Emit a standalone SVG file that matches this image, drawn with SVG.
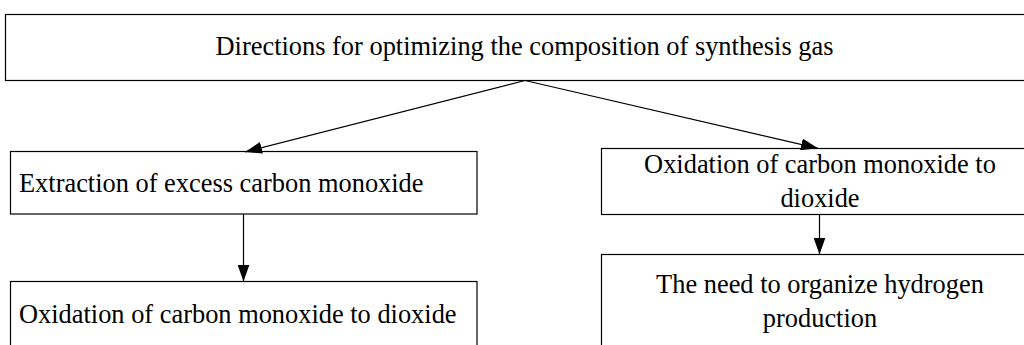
<svg xmlns="http://www.w3.org/2000/svg" width="1024" height="345" viewBox="0 0 1024 345">
<style>
.box{fill:#fff;stroke:#000;stroke-width:1.2}
.t{font-family:"Liberation Serif","Times New Roman",serif;font-size:26.4px;fill:#000}
.c{text-anchor:middle}
.edge{stroke:#000;stroke-width:1.2;fill:none}
</style>
<defs>
<marker id="arr" markerUnits="userSpaceOnUse" markerWidth="18" markerHeight="12" viewBox="0 0 18 12" refX="17" refY="6" orient="auto">
<path d="M0,0 L17,6 L0,12 Z" fill="#000"/>
</marker>
</defs>
<rect width="1024" height="345" fill="#fff"/>
<g id="n-top">
<rect class="box" x="5.5" y="14.5" width="1030" height="66"/>
<text class="t c" x="524.5" y="55">Directions for optimizing the composition of synthesis gas</text>
</g>
<g id="n-extract">
<rect class="box" x="10.5" y="151.5" width="466.5" height="62.5"/>
<text class="t" x="19" y="192">Extraction of excess carbon monoxide</text>
</g>
<g id="n-oxid-left">
<rect class="box" x="10.5" y="281.5" width="466.5" height="80"/>
<text class="t" x="19" y="323">Oxidation of carbon monoxide to dioxide</text>
</g>
<g id="n-oxid-right">
<rect class="box" x="601.5" y="148.5" width="440" height="66"/>
<text class="t c" x="820" y="172.5">Oxidation of carbon monoxide to</text>
<text class="t c" x="820" y="206.5">dioxide</text>
</g>
<g id="n-hydrogen">
<rect class="box" x="601.5" y="254.5" width="440" height="100"/>
<text class="t c" x="820" y="293">The need to organize hydrogen</text>
<text class="t c" x="820" y="326.5">production</text>
</g>
<g id="connectors">
<line class="edge" x1="525" y1="80.5" x2="245" y2="152" marker-end="url(#arr)"/>
<line class="edge" x1="525" y1="80.5" x2="818" y2="148.3" marker-end="url(#arr)"/>
<line class="edge" x1="243.5" y1="214" x2="243.5" y2="281.5" marker-end="url(#arr)"/>
<line class="edge" x1="819.5" y1="214.5" x2="819.5" y2="254.5" marker-end="url(#arr)"/>
</g>
</svg>
